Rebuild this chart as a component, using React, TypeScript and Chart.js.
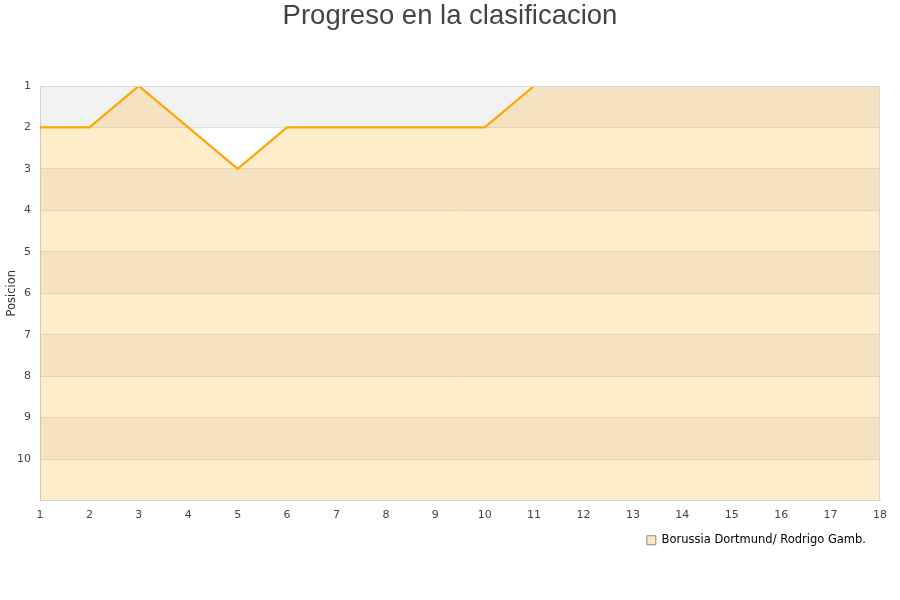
import React, { useEffect, useRef } from "react";
import { Chart, registerables } from "chart.js";

Chart.register(...registerables);

const jornadas = ["1","2","3","4","5","6","7","8","9","10","11","12","13","14","15","16","17","18"];
const posiciones = [2, 2, 1, 2, 3, 2, 2, 2, 2, 2, 1, 1, 1, 1, 1, 1, 1, 1];
const yTicks = [1, 2, 3, 4, 5, 6, 7, 8, 9, 10];
const serieNombre = "Borussia Dortmund/ Rodrigo Gamb.";
const titulo = "Progreso en la clasificacion";
const yTitulo = "Posicion";

const bandsPlugin = {
  id: "bands",
  beforeDraw(chart: any) {
    const { ctx, chartArea } = chart;
    const y = chart.scales.y;
    ctx.save();
    for (let i = 1; i <= 10; i++) {
      const top = y.getPixelForValue(i);
      const bot = y.getPixelForValue(i + 1);
      ctx.fillStyle = i % 2 === 1 ? "#f2f2f2" : "#ffffff";
      ctx.fillRect(chartArea.left, top, chartArea.right - chartArea.left, bot - top);
    }
    ctx.restore();
  },
  afterDatasetsDraw(chart: any) {
    const { ctx, chartArea } = chart;
    ctx.save();
    ctx.strokeStyle = "#d8d8d8";
    ctx.lineWidth = 1;
    ctx.beginPath();
    ctx.moveTo(chartArea.left, chartArea.top + 0.5);
    ctx.lineTo(chartArea.right, chartArea.top + 0.5);
    ctx.moveTo(chartArea.right - 0.5, chartArea.top);
    ctx.lineTo(chartArea.right - 0.5, chartArea.bottom);
    ctx.stroke();
    ctx.restore();
  },
};

export default function App() {
  const ref = useRef<HTMLCanvasElement>(null);
  useEffect(() => {
    if (!ref.current) return;
    const chart = new Chart(ref.current, {
      type: "line",
      data: {
        labels: jornadas,
        datasets: [
          {
            label: serieNombre,
            data: posiciones,
            borderColor: "#ffa500",
            backgroundColor: "rgba(255,165,0,0.2)",
            borderWidth: 2.2,
            pointRadius: 0,
            tension: 0,
            fill: { value: 11 },
          },
        ],
      },
      options: {
        responsive: false,
        animation: false,
        layout: { padding: { left: 0, right: 0, top: 0, bottom: 44 } },
        plugins: {
          title: {
            display: true,
            text: titulo,
            color: "#444444",
            font: { family: "'Liberation Sans', Arial, sans-serif", size: 27.5, weight: "normal" },
            padding: { top: 0, bottom: 53 },
          },
          legend: {
            display: true,
            position: "bottom",
            align: "end",
            fullSize: false,
            labels: {
              color: "#111111",
              font: { family: "'DejaVu Sans', sans-serif", size: 11.5 },
              boxWidth: 9,
              boxHeight: 9,
              padding: 14,
              generateLabels: () => [
                {
                  text: serieNombre,
                  fillStyle: "#ffe8c0",
                  strokeStyle: "#888888",
                  lineWidth: 1,
                  hidden: false,
                  datasetIndex: 0,
                },
              ],
            },
          },
          tooltip: { enabled: false },
        },
        scales: {
          x: {
            type: "category",
            offset: false,
            afterFit: (s: any) => {
              s.height = 20;
            },
            grid: { display: false, drawTicks: false },
            border: { color: "#d0d0d0" },
            ticks: {
              color: "#444444",
              font: { family: "'DejaVu Sans', sans-serif", size: 11 },
              padding: 8,
              maxRotation: 0,
              autoSkip: false,
            },
          },
          y: {
            type: "linear",
            reverse: true,
            min: 1,
            max: 11,
            afterFit: (s: any) => {
              s.width = 40;
            },
            afterBuildTicks: (s: any) => {
              s.ticks = yTicks.map((v) => ({ value: v }));
            },
            grid: { color: "#dedede", drawTicks: false },
            border: { color: "#d0d0d0" },
            title: {
              display: true,
              text: yTitulo,
              color: "#333333",
              font: { family: "'DejaVu Sans', sans-serif", size: 11.5 },
              padding: { top: 5, bottom: 0 },
            },
            ticks: {
              color: "#444444",
              font: { family: "'DejaVu Sans', sans-serif", size: 11 },
              padding: 9,
              stepSize: 1,
            },
          },
          yPad: {
            type: "linear",
            position: "right",
            display: true,
            afterFit: (s: any) => {
              s.width = 20;
            },
            grid: { display: false, drawTicks: false },
            border: { display: false },
            ticks: { display: false },
          },
        },
      },
      plugins: [bandsPlugin],
    });
    return () => chart.destroy();
  }, []);
  return (
    <div style={{ position: "absolute", left: 0, top: 0, width: 900, height: 600 }}>
      <canvas ref={ref} width={900} height={600} />
    </div>
  );
}
